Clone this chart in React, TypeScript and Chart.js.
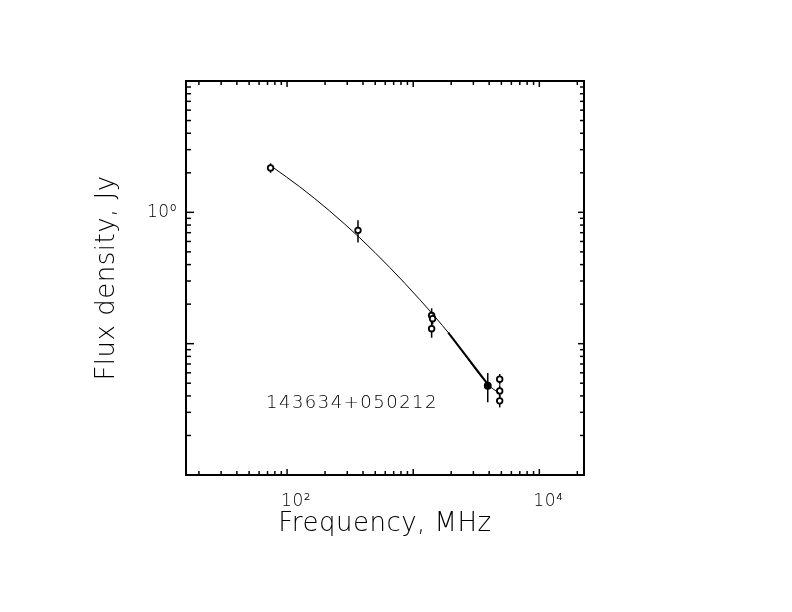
import { useEffect, useRef } from 'react';
import { Chart, registerables } from 'chart.js';

Chart.register(...registerables);

const FAMILY = '"DejaVu Sans", "Liberation Sans", sans-serif';

// measured spectrum (open circles): frequency in MHz, flux density and error in Jy
const freqMHz = [74, 365, 1400, 1425, 1400, 4850, 4850, 4850];
const fluxJy = [2.18, 0.729, 0.164, 0.155, 0.13, 0.0537, 0.0437, 0.0367];
const errJy = [0.18, 0.14, 0.022, 0.015, 0.019, 0.005, 0.0045, 0.004];

// the filled point at 3.9 GHz
const filledFreq = [3900];
const filledFlux = [0.0478];
const filledErr = [0.012];

// fitted spectrum
const curveFreq = [77, 126, 218, 378, 653, 1130, 1956, 3938, 4813];
const curveFlux = [2.206, 1.566, 1.023, 0.6375, 0.3797, 0.216, 0.1171, 0.0486, 0.0419];

// heavier stretch of the fit
const thickFreq = [1896, 3938];
const thickFlux = [0.1213, 0.0486];

// axes
const xMin = 15.8;
const xMax = 22600;
const yMin = 0.01;
const yMax = 10;
const xDecades = [10, 100, 1000, 10000];
const yDecades = [0.01, 0.1, 1];
const mantissas = [1, 2, 3, 4, 5, 6, 7, 8, 9];
const xLabelValues = [100, 10000];
const xLabelTexts = ['10²', '10⁴'];
const yLabelValues = [1];
const yLabelTexts = ['10⁰'];

const sourceName = '143634+050212';

const tickValues = (decades: number[], lo: number, hi: number) =>
  decades
    .flatMap((d) => mantissas.map((m) => +(m * d).toPrecision(6)))
    .filter((v) => v >= lo * 0.9999 && v <= hi * 1.0001);

const isDecade = (v: number) => {
  const l = Math.log10(v);
  return Math.abs(l - Math.round(l)) < 1e-6;
};

const labelFor = (values: number[], texts: string[]) => (v: number | string) => {
  const i = values.findIndex((x) => Math.abs(x - Number(v)) / x < 1e-6);
  return i >= 0 ? texts[i] : '';
};

// Hershey-like wide lettering
const spacing = {
  id: 'spacing',
  beforeDraw(chart: any) {
    chart.ctx.letterSpacing = '0.5px';
  },
  afterDraw(chart: any) {
    chart.ctx.letterSpacing = '0px';
  },
};

const errorBars = {
  id: 'errorBars',
  beforeDatasetsDraw(chart: any) {
    const { ctx, scales } = chart;
    const draw = (f: number[], s: number[], e: number[]) => {
      f.forEach((fr, i) => {
        const px = scales.x.getPixelForValue(fr);
        ctx.beginPath();
        ctx.moveTo(px, scales.y.getPixelForValue(s[i] + e[i]));
        ctx.lineTo(px, scales.y.getPixelForValue(s[i] - e[i]));
        ctx.stroke();
      });
    };
    ctx.save();
    ctx.strokeStyle = '#000';
    ctx.lineWidth = 1.5;
    draw(freqMHz, fluxJy, errJy);
    draw(filledFreq, filledFlux, filledErr);
    ctx.restore();
  },
};

const frameTicks = {
  id: 'frameTicks',
  afterDraw(chart: any) {
    const { ctx, chartArea: a, scales } = chart;
    const seg = (x1: number, y1: number, x2: number, y2: number) => {
      ctx.beginPath();
      ctx.moveTo(x1, y1);
      ctx.lineTo(x2, y2);
      ctx.stroke();
    };
    ctx.save();
    ctx.strokeStyle = '#000';
    ctx.lineWidth = 1.5;
    scales.x.ticks.forEach((t: any) => {
      const px = scales.x.getPixelForValue(t.value);
      const len = isDecade(t.value) ? 6 : 4;
      seg(px, a.bottom, px, a.bottom - len);
      seg(px, a.top, px, a.top + len);
    });
    scales.y.ticks.forEach((t: any) => {
      const py = scales.y.getPixelForValue(t.value);
      const major = isDecade(t.value);
      seg(a.left, py, a.left + (major ? 8 : 5), py);
      seg(a.right, py, a.right - (major ? 6 : 4), py);
    });
    ctx.lineWidth = 2;
    ctx.strokeRect(a.left, a.top, a.right - a.left, a.bottom - a.top);

    ctx.fillStyle = '#000';
    ctx.font = `200 18px ${FAMILY}`;
    ctx.textAlign = 'left';
    ctx.textBaseline = 'alphabetic';
    ctx.letterSpacing = '1.5px';
    ctx.fillText(sourceName, 266, 408);
    ctx.restore();
  },
};

export default function App() {
  const canvasRef = useRef<HTMLCanvasElement | null>(null);

  useEffect(() => {
    const ctx = canvasRef.current?.getContext('2d');
    if (!ctx) return;

    const xy = (xs: number[], ys: number[]) => xs.map((x, i) => ({ x, y: ys[i] }));

    const chart = new Chart(ctx, {
      type: 'scatter',
      data: {
        datasets: [
          {
            type: 'line',
            data: xy(curveFreq, curveFlux),
            borderColor: '#000',
            borderWidth: 1,
            pointRadius: 0,
            cubicInterpolationMode: 'monotone',
            fill: false,
          },
          {
            type: 'line',
            data: xy(thickFreq, thickFlux),
            borderColor: '#000',
            borderWidth: 2,
            pointRadius: 0,
            fill: false,
          },
          {
            data: xy(freqMHz, fluxJy),
            pointRadius: 2.8,
            pointBorderWidth: 1.8,
            pointBorderColor: '#000',
            pointBackgroundColor: '#fff',
          },
          {
            data: xy(filledFreq, filledFlux),
            pointRadius: 3.2,
            pointBorderWidth: 1.5,
            pointBorderColor: '#000',
            pointBackgroundColor: '#000',
          },
        ],
      },
      options: {
        animation: false,
        responsive: true,
        maintainAspectRatio: false,
        events: [],
        layout: { padding: { top: 81, right: 208, left: 0, bottom: 0 } },
        plugins: {
          legend: { display: false },
          tooltip: { enabled: false },
        },
        scales: {
          x: {
            type: 'logarithmic',
            position: 'bottom',
            min: xMin,
            max: xMax,
            grid: { display: false, drawTicks: false },
            border: { display: false },
            afterBuildTicks: (scale: any) => {
              scale.ticks = tickValues(xDecades, xMin, xMax).map((value) => ({ value }));
            },
            afterFit: (scale: any) => {
              scale.height = 137;
            },
            ticks: {
              autoSkip: false,
              maxRotation: 0,
              padding: 16,
              labelOffset: 9,
              color: '#000',
              font: { family: FAMILY, size: 17, weight: '200' },
              callback: labelFor(xLabelValues, xLabelTexts),
            },
            title: {
              display: true,
              text: 'Frequency, MHz',
              color: '#000',
              font: { family: FAMILY, size: 26, weight: '200' },
              padding: { top: 0, bottom: 72 },
            },
          },
          y: {
            type: 'logarithmic',
            position: 'left',
            min: yMin,
            max: yMax,
            grid: { display: false, drawTicks: false },
            border: { display: false },
            afterBuildTicks: (scale: any) => {
              scale.ticks = tickValues(yDecades, yMin, yMax).map((value) => ({ value }));
            },
            afterFit: (scale: any) => {
              scale.width = 186;
            },
            ticks: {
              autoSkip: false,
              padding: 9,
              color: '#000',
              font: { family: FAMILY, size: 17, weight: '200' },
              callback: labelFor(yLabelValues, yLabelTexts),
            },
            title: {
              display: true,
              text: 'Flux density, Jy',
              color: '#000',
              font: { family: FAMILY, size: 26, weight: '200' },
              padding: { top: 92, bottom: 0 },
            },
          },
        },
      },
      plugins: [spacing, errorBars, frameTicks],
    });

    return () => {
      chart.destroy();
    };
  }, []);

  return (
    <div style={{ position: 'fixed', left: 0, top: 0, width: 792, height: 612, background: '#fff' }}>
      <canvas ref={canvasRef}></canvas>
    </div>
  );
}
